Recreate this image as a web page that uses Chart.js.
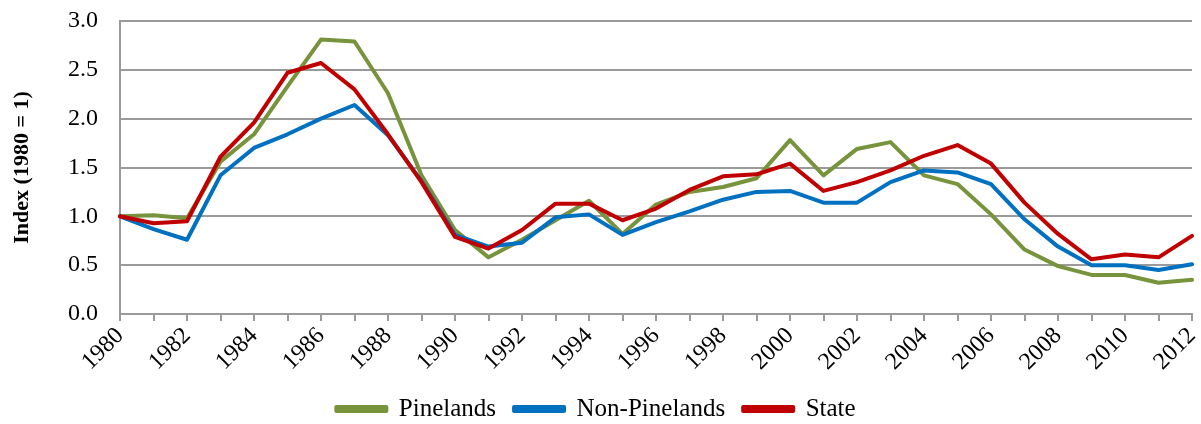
<!DOCTYPE html>
<html>
<head>
<meta charset="utf-8">
<script src="https://cdn.jsdelivr.net/npm/chart.js@4.4.1/dist/chart.umd.min.js"></script>
<style>
  html, body { margin: 0; padding: 0; background: #fff; }
  #wrap { width: 1201px; height: 424px; position: relative; }
</style>
</head>
<body>
<div id="wrap"><canvas id="c"></canvas></div>
<script>
const years = ['1980','1981','1982','1983','1984','1985','1986','1987','1988','1989','1990','1991','1992','1993','1994','1995','1996','1997','1998','1999','2000','2001','2002','2003','2004','2005','2006','2007','2008','2009','2010','2011','2012'];

const pinelands = [1.00,1.01,0.98,1.56,1.84,2.33,2.81,2.79,2.26,1.42,0.86,0.58,0.76,0.96,1.16,0.82,1.12,1.25,1.30,1.39,1.78,1.42,1.69,1.76,1.42,1.33,1.02,0.66,0.49,0.40,0.40,0.32,0.35];
const nonPinelands = [1.00,0.87,0.76,1.42,1.70,1.84,2.00,2.14,1.83,1.36,0.81,0.69,0.73,0.99,1.02,0.81,0.94,1.05,1.17,1.25,1.26,1.14,1.14,1.35,1.47,1.45,1.33,0.97,0.69,0.50,0.50,0.45,0.51];
const state = [1.00,0.93,0.95,1.61,1.96,2.47,2.57,2.30,1.84,1.35,0.79,0.67,0.86,1.13,1.13,0.96,1.08,1.27,1.41,1.43,1.54,1.26,1.35,1.47,1.62,1.73,1.54,1.14,0.82,0.56,0.61,0.58,0.80];

const seriesNames = ['Pinelands','Non-Pinelands','State'];
const seriesColors = ['#77933C','#0070C0','#C00000'];
const yTitle = 'Index (1980 = 1)';

const FONT = "'Liberation Serif', 'Times New Roman', serif";
const GRID = '#9a9a9a';

const legendShift = {
  id: 'legendShift',
  afterLayout(chart) {
    const lg = chart.legend;
    if (!lg) return;
    const h = lg.bottom - lg.top;
    const pad = lg.options.labels.padding;
    const fs = lg.options.labels.font.size;
    const targetCenter = 409;
    lg.top = targetCenter - pad - fs / 2;
    lg.bottom = lg.top + h;
  }
};

function ds(i, data, order) {
  return {
    label: seriesNames[i],
    data: data,
    borderColor: seriesColors[i],
    backgroundColor: seriesColors[i],
    borderWidth: 4,
    pointRadius: 0,
    tension: 0,
    borderJoinStyle: 'round',
    borderCapStyle: 'round',
    order: order
  };
}

new Chart(document.getElementById('c'), {
  type: 'line',
  data: {
    labels: years,
    datasets: [ds(0, pinelands, 3), ds(1, nonPinelands, 2), ds(2, state, 1)]
  },
  options: {
    responsive: true,
    maintainAspectRatio: false,
    animation: false,
    layout: { padding: { top: 21, right: 9, left: 0, bottom: 0 } },
    plugins: {
      tooltip: { enabled: false },
      legend: {
        position: 'bottom',
        labels: {
          boxWidth: 50,
          boxHeight: 4,
          padding: 18,
          color: '#000',
          font: { family: FONT, size: 25 },
          sort: (a, b) => a.datasetIndex - b.datasetIndex
        }
      }
    },
    scales: {
      x: {
        offset: false,
        grid: { drawOnChartArea: false, drawTicks: true, tickLength: 7, color: GRID, lineWidth: 2 },
        border: { display: true, color: GRID, width: 2 },
        ticks: {
          autoSkip: false,
          minRotation: 45,
          maxRotation: 45,
          padding: 1,
          color: '#000',
          font: { family: FONT, size: 24 },
          callback: function(v, i) { return i % 2 === 0 ? years[i] : ''; }
        },
        afterFit: function(s) { s.height = 57; s.paddingRight = 0; s.paddingLeft = 0; }
      },
      y: {
        min: 0,
        max: 3,
        grid: { color: GRID, lineWidth: 2, drawTicks: true, tickLength: 21, tickColor: 'rgba(0,0,0,0)' },
        border: { display: true, color: GRID, width: 2 },
        ticks: {
          stepSize: 0.5,
          padding: 1,
          color: '#000',
          font: { family: FONT, size: 24 },
          callback: v => v.toFixed(1)
        },
        title: {
          display: true,
          text: yTitle,
          color: '#000',
          font: { family: FONT, size: 22, weight: 'bold' },
          padding: { top: 9, bottom: 0 }
        },
        afterFit: function(s) { s.width = 120; }
      }
    }
  },
  plugins: [legendShift]
});
</script>
</body>
</html>
